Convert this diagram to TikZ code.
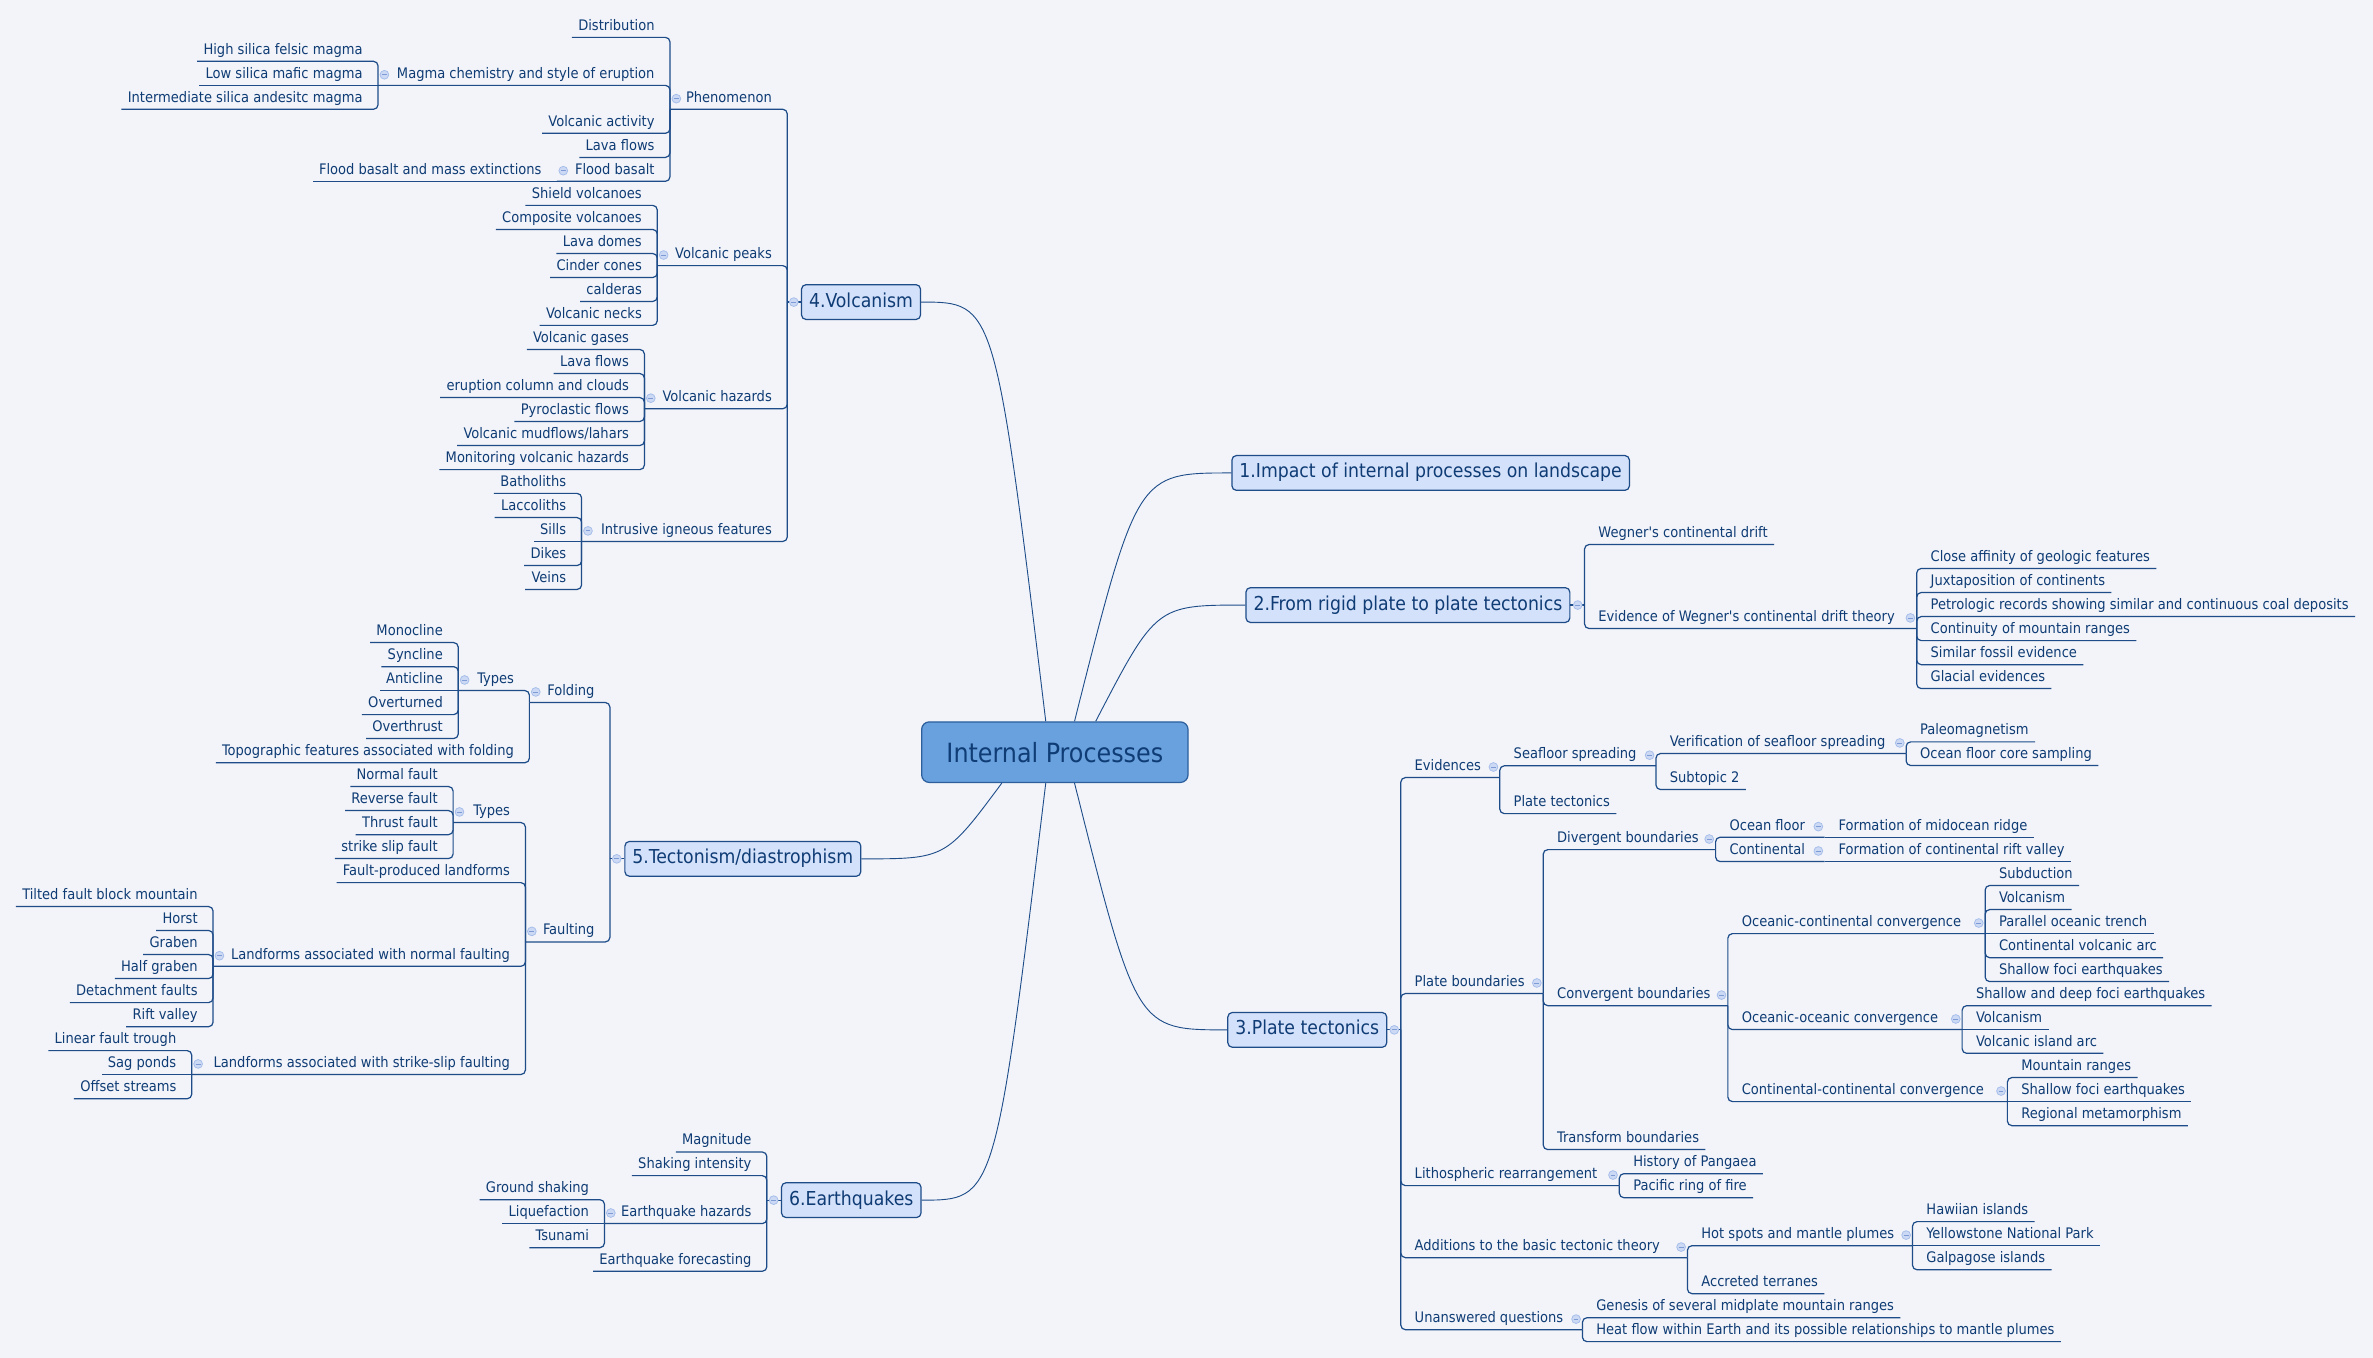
\documentclass[tikz,border=0pt]{standalone}
\usepackage{fontspec}
\setmainfont{DejaVu Sans Condensed}
\usepackage{xcolor}
\definecolor{paper}{HTML}{F2F4F9}
\definecolor{ink}{HTML}{0F3C75}
\definecolor{branch}{HTML}{1D4C89}
\definecolor{topicLight}{HTML}{D4E1FA}
\definecolor{rootFill}{HTML}{68A1DE}
\definecolor{rootLine}{HTML}{2C5F9C}
\definecolor{foldFill}{HTML}{CCD9F4}
\definecolor{foldLine}{HTML}{A6BDEA}
\definecolor{foldDash}{HTML}{7F9BD6}
\usepackage{tikz}
\usetikzlibrary{positioning, calc}

\begin{document}
\begin{tikzpicture}[x=1pt, y=-1pt,
                every node/.style={text=ink},
                sub/.style={inner xsep=4pt, inner ysep=2.5pt, text height=7pt, text depth=2pt, font=\fontsize{9.6}{11}\selectfont},
                lsub/.style={sub, anchor=south east},
                rsub/.style={sub, anchor=south west},
                topic/.style={rectangle, rounded corners=3pt, draw=branch, line width=0.8pt, fill=topicLight, inner xsep=5pt, minimum height=23pt, text height=9.2pt, text depth=2.6pt, font=\fontsize{12.7}{14}\selectfont},
                central/.style={rectangle, rounded corners=5pt, draw=rootLine, line width=0.8pt, fill=rootFill, minimum width=176pt, minimum height=40pt, font=\fontsize{17.5}{20}\selectfont},
                link/.style={draw=branch, line width=0.8pt, rounded corners=3pt},
                curve/.style={draw=branch, line width=0.6pt},
                foldmark/.style={circle, draw=foldLine, fill=foldFill, line width=0.5pt, minimum size=5.8pt, inner sep=0pt, path picture={\draw[foldDash, line width=0.55pt] ([xshift=-1.6pt]path picture bounding box.center) -- ([xshift=1.6pt]path picture bounding box.center);}}
            ]

            \fill[paper] (0,0) rectangle (1568,897);
            \useasboundingbox (0,0) rectangle (1568,897);

            \node[central] (root) at (697,497) {Internal Processes};

            \node[topic, anchor=west] (impact) at (813.6,312.5) {1.Impact of internal processes on landscape};
            \node[topic, anchor=east] (rigid) at (1037.7,399.8) {2.From rigid plate to plate tectonics};
            \node[topic, anchor=east] (plate) at (916.7,680.5) {3.Plate tectonics};
            \node[topic, anchor=west] (volc) at (529.2,199.6) {4.Volcanism};
            \node[topic, anchor=west] (tect) at (412.5,567.5) {5.Tectonism/diastrophism};
            \node[topic, anchor=west] (quake) at (516,793) {6.Earthquakes};

            \draw[curve] ([xshift=13pt]root.north) .. controls (751.4,312.5) .. (impact.west);
            \draw[curve] ([xshift=27pt]root.north) .. controls (763.9,399.8) .. (rigid.west);
            \draw[curve] ([xshift=13pt]root.south) .. controls (751,680.5) .. (plate.west);
            \draw[curve] ([xshift=-6pt]root.north) .. controls (657.5,199.6) .. (volc.east);
            \draw[curve] ([xshift=-35pt]root.south) .. controls (624.8,567.5) .. (tect.east);
            \draw[curve] ([xshift=-6pt]root.south) .. controls (657.6,793) .. (quake.east);

            \coordinate (volc-j) at (520.2,199.6);
            \node[lsub] (phen) at (514.2,72.2) {Phenomenon};
            \coordinate (phen-j) at (442.7,72.2);
            \node[lsub] (distr) at (436.7,24.7) {Distribution};
            \node[lsub] (magma) at (436.7,56.4) {Magma chemistry and style of eruption};
            \coordinate (magma-j) at (249.8,56.4);
            \node[lsub] (felsic) at (243.8,40.5) {High silica felsic magma};
            \node[lsub] (mafic) at (243.8,56.4) {Low silica mafic magma};
            \node[lsub] (andes) at (243.8,72.2) {Intermediate silica andesitc magma};
            \node[lsub] (vact) at (436.7,88.1) {Volcanic activity};
            \node[lsub] (lavaA) at (436.7,104) {Lava flows};
            \node[lsub] (flood) at (436.7,119.8) {Flood basalt};
            \coordinate (flood-j) at (368,119.8);
            \node[lsub] (extinct) at (362,119.8) {Flood basalt and mass extinctions};
            \node[lsub] (peaks) at (514.2,175.5) {Volcanic peaks};
            \coordinate (peaks-j) at (434.3,175.5);
            \node[lsub] (shield) at (428.3,135.7) {Shield volcanoes};
            \node[lsub] (compo) at (428.3,151.6) {Composite volcanoes};
            \node[lsub] (domes) at (428.3,167.5) {Lava domes};
            \node[lsub] (cinder) at (428.3,183.4) {Cinder cones};
            \node[lsub] (caldera) at (428.3,199.2) {calderas};
            \node[lsub] (necks) at (428.3,215) {Volcanic necks};
            \node[lsub] (vhaz) at (514.2,270.1) {Volcanic hazards};
            \coordinate (vhaz-j) at (425.8,270.1);
            \node[lsub] (gases) at (419.8,230.9) {Volcanic gases};
            \node[lsub] (lavaB) at (419.8,246.8) {Lava flows};
            \node[lsub] (column) at (419.8,262.7) {eruption column and clouds};
            \node[lsub] (pyro) at (419.8,278.5) {Pyroclastic flows};
            \node[lsub] (lahar) at (419.8,294.4) {Volcanic mudflows/lahars};
            \node[lsub] (monit) at (419.8,310.3) {Monitoring volcanic hazards};
            \node[lsub] (intr) at (514.2,357.8) {Intrusive igneous features};
            \coordinate (intr-j) at (384.3,357.8);
            \node[lsub] (batho) at (378.3,326) {Batholiths};
            \node[lsub] (lacco) at (378.3,342) {Laccoliths};
            \node[lsub] (sills) at (378.3,357.8) {Sills};
            \node[lsub] (dikes) at (378.3,373.7) {Dikes};
            \node[lsub] (veins) at (378.3,389.5) {Veins};

            \coordinate (tect-j) at (403,567.5);
            \node[lsub] (folding) at (397,464.2) {Folding};
            \coordinate (folding-j) at (349.8,464.2);
            \node[lsub] (ftypes) at (343.8,456.3) {Types};
            \coordinate (ftypes-j) at (302.8,456.3);
            \node[lsub] (mono) at (296.8,424.6) {Monocline};
            \node[lsub] (syn) at (296.8,440.5) {Syncline};
            \node[lsub] (anti) at (296.8,456.3) {Anticline};
            \node[lsub] (overt) at (296.8,472.2) {Overturned};
            \node[lsub] (overth) at (296.8,488) {Overthrust};
            \node[lsub] (topo) at (343.8,504) {Topographic features associated with folding};
            \node[lsub] (faulting) at (397,622.4) {Faulting};
            \coordinate (faulting-j) at (347.2,622.4);
            \node[lsub] (ktypes) at (341.2,543.5) {Types};
            \coordinate (ktypes-j) at (299.4,543.5);
            \node[lsub] (normal) at (293.4,519.7) {Normal fault};
            \node[lsub] (reverse) at (293.4,535.6) {Reverse fault};
            \node[lsub] (thrust) at (293.4,551.5) {Thrust fault};
            \node[lsub] (strike) at (293.4,567.3) {strike slip fault};
            \node[lsub] (produced) at (341.2,583.2) {Fault-produced landforms};
            \node[lsub] (normland) at (341.2,638.5) {Landforms associated with normal faulting};
            \coordinate (normland-j) at (140.8,638.5);
            \node[lsub] (tilted) at (134.8,599) {Tilted fault block mountain};
            \node[lsub] (horst) at (134.8,614.8) {Horst};
            \node[lsub] (graben) at (134.8,630.7) {Graben};
            \node[lsub] (half) at (134.8,646.6) {Half graben};
            \node[lsub] (detach) at (134.8,662.5) {Detachment faults};
            \node[lsub] (rift) at (134.8,678.4) {Rift valley};
            \node[lsub] (slipland) at (341.2,710) {Landforms associated with strike-slip faulting};
            \coordinate (slipland-j) at (126.7,710);
            \node[lsub] (trough) at (120.7,694.2) {Linear fault trough};
            \node[lsub] (sag) at (120.7,710) {Sag ponds};
            \node[lsub] (offset) at (120.7,726) {Offset streams};

            \coordinate (quake-j) at (506.7,793);
            \node[lsub] (magn) at (500.7,761.2) {Magnitude};
            \node[lsub] (shake) at (500.7,776.8) {Shaking intensity};
            \node[lsub] (qhaz) at (500.7,808.5) {Earthquake hazards};
            \coordinate (qhaz-j) at (399.4,808.5);
            \node[lsub] (ground) at (393.4,792.7) {Ground shaking};
            \node[lsub] (liq) at (393.4,808.5) {Liquefaction};
            \node[lsub] (tsun) at (393.4,824.4) {Tsunami};
            \node[lsub] (forecast) at (500.7,840) {Earthquake forecasting};

            \coordinate (rigid-j) at (1047,399.8);
            \node[rsub] (wegner) at (1052,359.8) {Wegner\textquotesingle s continental drift};
            \node[rsub] (evid) at (1052,415.3) {Evidence of Wegner\textquotesingle s continental drift theory};
            \coordinate (evid-j) at (1266.5,415.3);
            \node[rsub] (affin) at (1271.5,375.6) {Close affinity of geologic features};
            \node[rsub] (juxta) at (1271.5,391.5) {Juxtaposition of continents};
            \node[rsub] (petro) at (1271.5,407.4) {Petrologic records showing similar and continuous coal deposits};
            \node[rsub] (ranges) at (1271.5,423.3) {Continuity of mountain ranges};
            \node[rsub] (fossil) at (1271.5,439.2) {Similar fossil evidence};
            \node[rsub] (glacial) at (1271.5,455) {Glacial evidences};

            \coordinate (plate-j) at (925.6,680.5);
            \node[rsub] (evids) at (930.6,513.8) {Evidences};
            \coordinate (evids-j) at (991,513.8);
            \node[rsub] (seaf) at (996,506) {Seafloor spreading};
            \coordinate (seaf-j) at (1094.2,506);
            \node[rsub] (verif) at (1099.2,497.9) {Verification of seafloor spreading};
            \coordinate (verif-j) at (1259.5,497.9);
            \node[rsub] (paleo) at (1264.5,490.2) {Paleomagnetism};
            \node[rsub] (core) at (1264.5,505.8) {Ocean floor core sampling};
            \node[rsub] (subt) at (1099.2,521.7) {Subtopic 2};
            \node[rsub] (ptect) at (996,537.6) {Plate tectonics};
            \node[rsub] (pbound) at (930.6,656.5) {Plate boundaries};
            \coordinate (pbound-j) at (1019.7,656.5);
            \node[rsub] (diverg) at (1024.7,561.4) {Divergent boundaries};
            \coordinate (diverg-j) at (1133.6,561.4);
            \node[rsub] (ocfloor) at (1138.6,553.2) {Ocean floor};
            \coordinate (ocfloor-j) at (1205.7,553.2);
            \node[rsub] (ridge) at (1210.7,553.2) {Formation of midocean ridge};
            \node[rsub] (contl) at (1138.6,569.3) {Continental};
            \coordinate (contl-j) at (1205.7,569.3);
            \node[rsub] (riftv) at (1210.7,569.3) {Formation of continental rift valley};
            \node[rsub] (converg) at (1024.7,664.5) {Convergent boundaries};
            \coordinate (converg-j) at (1141.7,664.5);
            \node[rsub] (occ) at (1146.7,616.9) {Oceanic-continental convergence};
            \coordinate (occ-j) at (1311.7,616.9);
            \node[rsub] (subd) at (1316.7,585.1) {Subduction};
            \node[rsub] (volcA) at (1316.7,601) {Volcanism};
            \node[rsub] (trench) at (1316.7,616.9) {Parallel oceanic trench};
            \node[rsub] (carc) at (1316.7,632.8) {Continental volcanic arc};
            \node[rsub] (sfociA) at (1316.7,648.6) {Shallow foci earthquakes};
            \node[rsub] (ooc) at (1146.7,680.3) {Oceanic-oceanic convergence};
            \coordinate (ooc-j) at (1296.5,680.3);
            \node[rsub] (sdfoci) at (1301.5,664.5) {Shallow and deep foci earthquakes};
            \node[rsub] (volcB) at (1301.5,680.3) {Volcanism};
            \node[rsub] (iarc) at (1301.5,696) {Volcanic island arc};
            \node[rsub] (ccc) at (1146.7,727.9) {Continental-continental convergence};
            \coordinate (ccc-j) at (1326.4,727.9);
            \node[rsub] (mount) at (1331.4,712) {Mountain ranges};
            \node[rsub] (sfociB) at (1331.4,727.9) {Shallow foci earthquakes};
            \node[rsub] (metam) at (1331.4,743.8) {Regional metamorphism};
            \node[rsub] (transf) at (1024.7,759.6) {Transform boundaries};
            \node[rsub] (litho) at (930.6,783.4) {Lithospheric rearrangement};
            \coordinate (litho-j) at (1070,783.4);
            \node[rsub] (pangaea) at (1075,775.5) {History of Pangaea};
            \node[rsub] (ring) at (1075,791.4) {Pacific ring of fire};
            \node[rsub] (addit) at (930.6,831) {Additions to the basic tectonic theory};
            \coordinate (addit-j) at (1115,831);
            \node[rsub] (hotsp) at (1120,823.1) {Hot spots and mantle plumes};
            \coordinate (hotsp-j) at (1263.7,823.1);
            \node[rsub] (hawaii) at (1268.7,807.2) {Hawiian islands};
            \node[rsub] (yellow) at (1268.7,823.1) {Yellowstone National Park};
            \node[rsub] (galap) at (1268.7,839) {Galpagose islands};
            \node[rsub] (accret) at (1120,854.8) {Accreted terranes};
            \node[rsub] (unans) at (930.6,878.6) {Unanswered questions};
            \coordinate (unans-j) at (1045.6,878.6);
            \node[rsub] (genesis) at (1050.6,870.7) {Genesis of several midplate mountain ranges};
            \node[rsub] (heat) at (1050.6,886.5) {Heat flow within Earth and its possible relationships to mantle plumes};

            \draw[link] (volc-j) -- (volc.west);
            \draw[link] (volc-j) |- (phen-j);
            \draw[link] (volc-j) |- (peaks-j);
            \draw[link] (volc-j) |- (vhaz-j);
            \draw[link] (volc-j) |- (intr-j);
            \draw[link] (phen-j) |- (distr.south west);
            \draw[link] (phen-j) |- (magma-j);
            \draw[link] (phen-j) |- (vact.south west);
            \draw[link] (phen-j) |- (lavaA.south west);
            \draw[link] (phen-j) |- (flood-j);
            \draw[link] (magma-j) |- (felsic.south west);
            \draw[link] (magma-j) -- (mafic.south west);
            \draw[link] (magma-j) |- (andes.south west);
            \draw[link] (flood-j) -- (extinct.south west);
            \draw[link] (peaks-j) |- (shield.south west);
            \draw[link] (peaks-j) |- (compo.south west);
            \draw[link] (peaks-j) |- (domes.south west);
            \draw[link] (peaks-j) |- (cinder.south west);
            \draw[link] (peaks-j) |- (caldera.south west);
            \draw[link] (peaks-j) |- (necks.south west);
            \draw[link] (vhaz-j) |- (gases.south west);
            \draw[link] (vhaz-j) |- (lavaB.south west);
            \draw[link] (vhaz-j) |- (column.south west);
            \draw[link] (vhaz-j) |- (pyro.south west);
            \draw[link] (vhaz-j) |- (lahar.south west);
            \draw[link] (vhaz-j) |- (monit.south west);
            \draw[link] (intr-j) |- (batho.south west);
            \draw[link] (intr-j) |- (lacco.south west);
            \draw[link] (intr-j) -- (sills.south west);
            \draw[link] (intr-j) |- (dikes.south west);
            \draw[link] (intr-j) |- (veins.south west);

            \draw[link] (tect-j) -- (tect.west);
            \draw[link] (tect-j) |- (folding-j);
            \draw[link] (tect-j) |- (faulting-j);
            \draw[link] (folding-j) |- (ftypes-j);
            \draw[link] (folding-j) |- (topo.south west);
            \draw[link] (ftypes-j) |- (mono.south west);
            \draw[link] (ftypes-j) |- (syn.south west);
            \draw[link] (ftypes-j) -- (anti.south west);
            \draw[link] (ftypes-j) |- (overt.south west);
            \draw[link] (ftypes-j) |- (overth.south west);
            \draw[link] (faulting-j) |- (ktypes-j);
            \draw[link] (faulting-j) |- (produced.south west);
            \draw[link] (faulting-j) |- (normland-j);
            \draw[link] (faulting-j) |- (slipland-j);
            \draw[link] (ktypes-j) |- (normal.south west);
            \draw[link] (ktypes-j) |- (reverse.south west);
            \draw[link] (ktypes-j) |- (thrust.south west);
            \draw[link] (ktypes-j) |- (strike.south west);
            \draw[link] (normland-j) |- (tilted.south west);
            \draw[link] (normland-j) |- (horst.south west);
            \draw[link] (normland-j) |- (graben.south west);
            \draw[link] (normland-j) |- (half.south west);
            \draw[link] (normland-j) |- (detach.south west);
            \draw[link] (normland-j) |- (rift.south west);
            \draw[link] (slipland-j) |- (trough.south west);
            \draw[link] (slipland-j) -- (sag.south west);
            \draw[link] (slipland-j) |- (offset.south west);

            \draw[link] (quake-j) -- (quake.west);
            \draw[link] (quake-j) |- (magn.south west);
            \draw[link] (quake-j) |- (shake.south west);
            \draw[link] (quake-j) |- (qhaz-j);
            \draw[link] (quake-j) |- (forecast.south west);
            \draw[link] (qhaz-j) |- (ground.south west);
            \draw[link] (qhaz-j) -- (liq.south west);
            \draw[link] (qhaz-j) |- (tsun.south west);

            \draw[link] (rigid-j) -- (rigid.east);
            \draw[link] (rigid-j) |- (wegner.south east);
            \draw[link] (rigid-j) |- (evid-j);
            \draw[link] (evid-j) |- (affin.south east);
            \draw[link] (evid-j) |- (juxta.south east);
            \draw[link] (evid-j) |- (petro.south east);
            \draw[link] (evid-j) |- (ranges.south east);
            \draw[link] (evid-j) |- (fossil.south east);
            \draw[link] (evid-j) |- (glacial.south east);

            \draw[link] (plate-j) -- (plate.east);
            \draw[link] (plate-j) |- (evids-j);
            \draw[link] (plate-j) |- (pbound-j);
            \draw[link] (plate-j) |- (litho-j);
            \draw[link] (plate-j) |- (addit-j);
            \draw[link] (plate-j) |- (unans-j);
            \draw[link] (evids-j) |- (seaf-j);
            \draw[link] (evids-j) |- (ptect.south east);
            \draw[link] (seaf-j) |- (verif-j);
            \draw[link] (seaf-j) |- (subt.south east);
            \draw[link] (verif-j) |- (paleo.south east);
            \draw[link] (verif-j) |- (core.south east);
            \draw[link] (pbound-j) |- (diverg-j);
            \draw[link] (pbound-j) |- (converg-j);
            \draw[link] (pbound-j) |- (transf.south east);
            \draw[link] (diverg-j) |- (ocfloor-j);
            \draw[link] (diverg-j) |- (contl-j);
            \draw[link] (ocfloor-j) -- (ridge.south east);
            \draw[link] (contl-j) -- (riftv.south east);
            \draw[link] (converg-j) |- (occ-j);
            \draw[link] (converg-j) |- (ooc-j);
            \draw[link] (converg-j) |- (ccc-j);
            \draw[link] (occ-j) |- (subd.south east);
            \draw[link] (occ-j) |- (volcA.south east);
            \draw[link] (occ-j) -- (trench.south east);
            \draw[link] (occ-j) |- (carc.south east);
            \draw[link] (occ-j) |- (sfociA.south east);
            \draw[link] (ooc-j) |- (sdfoci.south east);
            \draw[link] (ooc-j) -- (volcB.south east);
            \draw[link] (ooc-j) |- (iarc.south east);
            \draw[link] (ccc-j) |- (mount.south east);
            \draw[link] (ccc-j) -- (sfociB.south east);
            \draw[link] (ccc-j) |- (metam.south east);
            \draw[link] (litho-j) |- (pangaea.south east);
            \draw[link] (litho-j) |- (ring.south east);
            \draw[link] (addit-j) |- (hotsp-j);
            \draw[link] (addit-j) |- (accret.south east);
            \draw[link] (hotsp-j) |- (hawaii.south east);
            \draw[link] (hotsp-j) -- (yellow.south east);
            \draw[link] (hotsp-j) |- (galap.south east);
            \draw[link] (unans-j) |- (genesis.south east);
            \draw[link] (unans-j) |- (heat.south east);

            \node[foldmark] (volc-f) at (524.5,199.6) {};
            \node[foldmark] (phen-f) at (446.9,65.2) {};
            \node[foldmark] (magma-f) at (254,49.4) {};
            \node[foldmark] (flood-f) at (372.2,112.8) {};
            \node[foldmark] (peaks-f) at (438.5,168.5) {};
            \node[foldmark] (vhaz-f) at (430,263.1) {};
            \node[foldmark] (intr-f) at (388.5,350.8) {};
            \node[foldmark] (tect-f) at (407.5,567.5) {};
            \node[foldmark] (folding-f) at (354,457.2) {};
            \node[foldmark] (ftypes-f) at (307,449.3) {};
            \node[foldmark] (faulting-f) at (351.4,615.4) {};
            \node[foldmark] (ktypes-f) at (303.6,536.5) {};
            \node[foldmark] (normland-f) at (145,631.5) {};
            \node[foldmark] (slipland-f) at (130.9,703) {};
            \node[foldmark] (quake-f) at (511.2,793) {};
            \node[foldmark] (qhaz-f) at (403.6,801.5) {};
            \node[foldmark] (rigid-f) at (1042.5,399.8) {};
            \node[foldmark] (evid-f) at (1262.3,408.3) {};
            \node[foldmark] (plate-f) at (921.3,680.5) {};
            \node[foldmark] (evids-f) at (986.8,506.8) {};
            \node[foldmark] (seaf-f) at (1090,499) {};
            \node[foldmark] (verif-f) at (1255.3,490.9) {};
            \node[foldmark] (pbound-f) at (1015.5,649.5) {};
            \node[foldmark] (diverg-f) at (1129.4,554.4) {};
            \node[foldmark] (ocfloor-f) at (1201.5,546.2) {};
            \node[foldmark] (contl-f) at (1201.5,562.3) {};
            \node[foldmark] (converg-f) at (1137.5,657.5) {};
            \node[foldmark] (occ-f) at (1307.5,609.9) {};
            \node[foldmark] (ooc-f) at (1292.3,673.3) {};
            \node[foldmark] (ccc-f) at (1322.2,720.9) {};
            \node[foldmark] (litho-f) at (1065.8,776.4) {};
            \node[foldmark] (addit-f) at (1110.8,824) {};
            \node[foldmark] (hotsp-f) at (1259.5,816.1) {};
            \node[foldmark] (unans-f) at (1041.4,871.6) {};
        \end{tikzpicture}
\end{document}
